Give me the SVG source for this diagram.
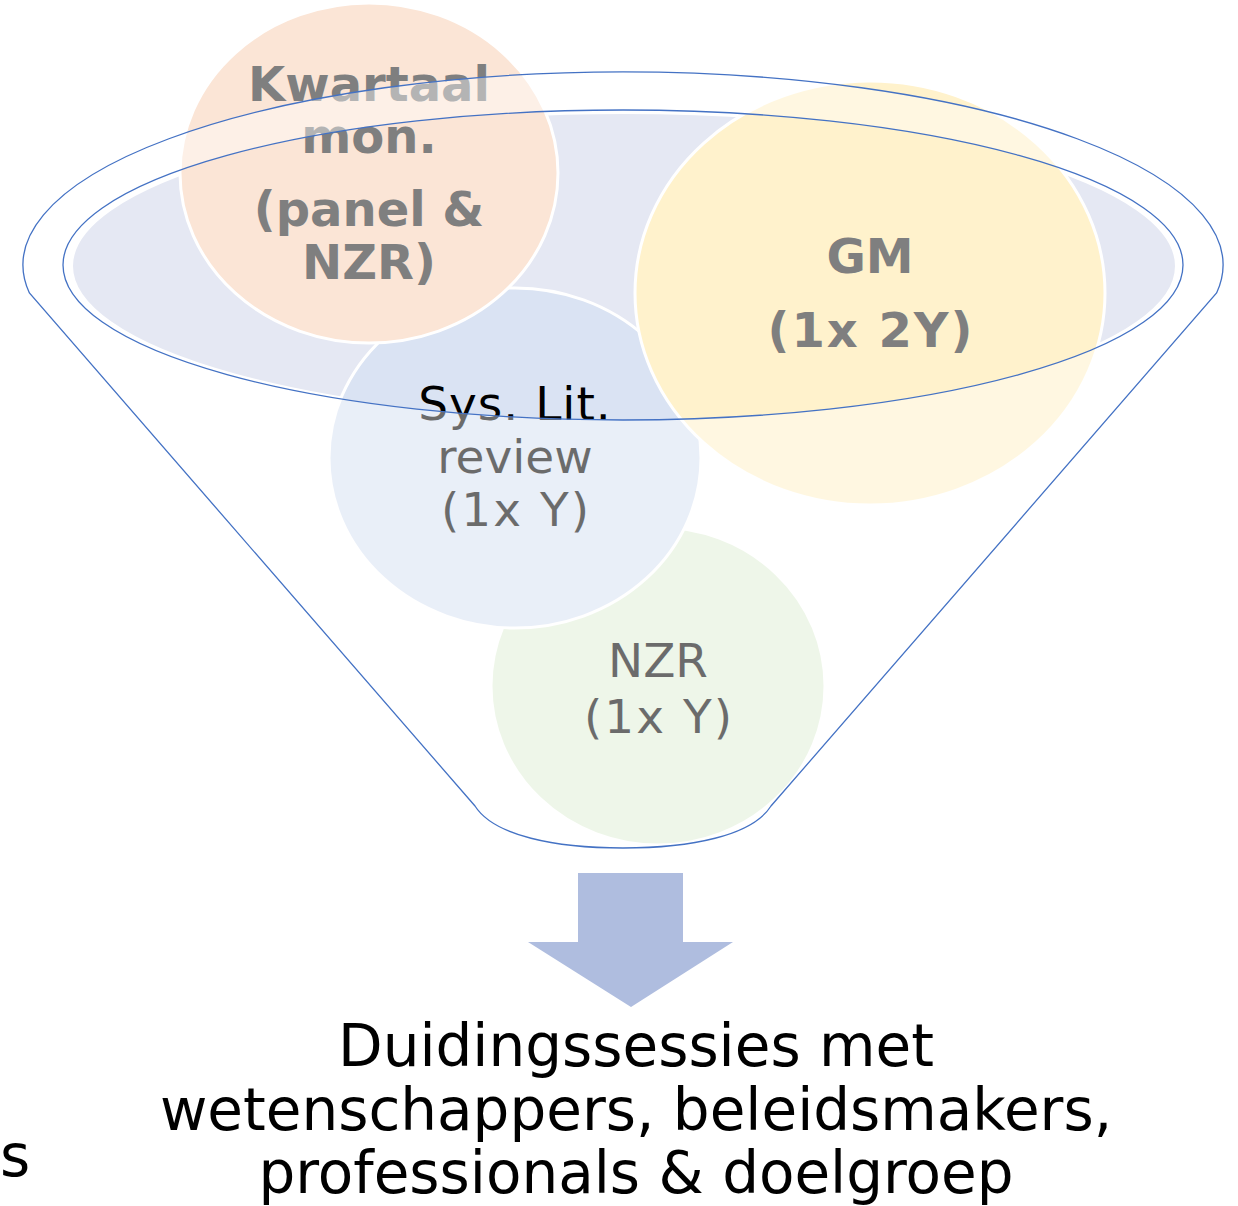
<svg xmlns="http://www.w3.org/2000/svg" width="1238" height="1206" viewBox="0 0 1238 1206">
<style>
.circ{stroke:#FFFFFF;stroke-width:3}
.bold{font-family:"DejaVu Sans","Liberation Sans",sans-serif;font-weight:bold;font-size:48px;fill:#7F7F7F;text-anchor:middle}
.reg{font-family:"DejaVu Sans","Liberation Sans",sans-serif;font-size:47px;fill:#000000;text-anchor:middle}
.big{font-family:"DejaVu Sans","Liberation Sans",sans-serif;font-size:58px;fill:#000000;text-anchor:middle}
.wide{letter-spacing:2px}
</style>
<rect x="0" y="0" width="1238" height="1206" fill="#FFFFFF"/>
<g id="funnel-top-fill">
<ellipse cx="624" cy="266" rx="552" ry="153" fill="#E5E8F3" stroke="#FFFFFF" stroke-width="2"/>
</g>
<g id="node-nzr">
<ellipse class="circ" cx="658" cy="686" rx="167" ry="159" fill="#E2F0D9"/>
<text class="reg" x="658" y="677">NZR</text>
<text class="reg wide" x="659" y="733">(1x Y)</text>
</g>
<g id="node-syslit">
<ellipse class="circ" cx="515" cy="458" rx="186" ry="170" fill="#DAE3F3"/>
<text class="reg" x="515" y="420" style="letter-spacing:1px">Sys. Lit.</text>
<text class="reg" x="515" y="473">review</text>
<text class="reg wide" x="516" y="526">(1x Y)</text>
</g>
<g id="node-gm">
<ellipse class="circ" cx="870" cy="293" rx="235" ry="212" fill="#FFF2CC"/>
<text class="bold" x="870" y="273">GM</text>
<text class="bold wide" x="871" y="347">(1x 2Y)</text>
</g>
<g id="node-kwartaal">
<ellipse class="circ" cx="369" cy="173" rx="189" ry="170" fill="#FBE5D6"/>
<text class="bold" x="369" y="101">Kwartaal</text>
<text class="bold" x="369" y="153">mon.</text>
<text class="bold" x="369" y="226">(panel &amp;</text>
<text class="bold" x="369" y="279">NZR)</text>
</g>
<g id="funnel">
<path d="M 29.4,293 A 600 193 0 1 1 1216.6,293 L 771,806 C 752,836 690,848 623,848 C 556,848 494,836 475,806 Z M 63,265 A 560 155 0 1 0 1183,265 A 560 155 0 1 0 63,265 Z" fill="#FFFFFF" fill-opacity="0.42" fill-rule="evenodd" stroke="#4472C4" stroke-width="1.3"/>
</g>
<g id="connectors">
<path d="M 578,873 L 683,873 L 683,942 L 733,942 L 631,1007 L 528,942 L 578,942 Z" fill="#AFBDDF"/>
</g>
<g id="node-result">
<text class="big" x="636" y="1066">Duidingssessies met</text>
<text class="big" x="636" y="1130">wetenschappers, beleidsmakers,</text>
<text class="big" x="636" y="1193">professionals &amp; doelgroep</text>
</g>
<text class="big" x="0" y="1176" style="text-anchor:start">s</text>
</svg>
